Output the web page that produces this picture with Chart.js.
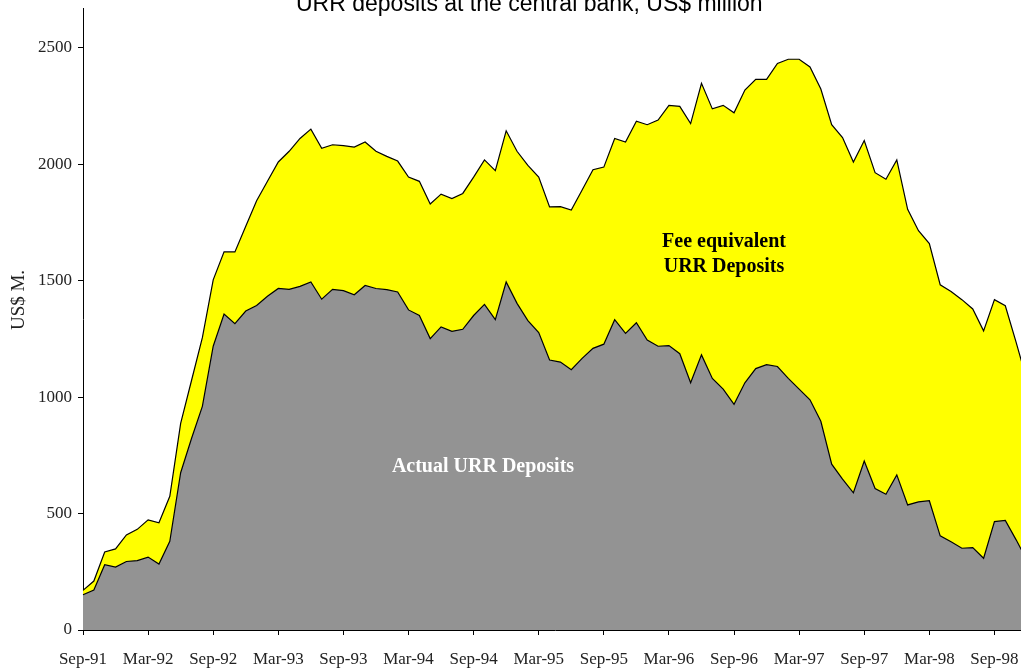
<!DOCTYPE html>
<html>
<head>
<meta charset="utf-8">
<title>URR deposits at the central bank</title>
<script src="https://cdn.jsdelivr.net/npm/chart.js@4.4.1/dist/chart.umd.min.js"></script>
<style>
  html, body { margin: 0; padding: 0; background: #fff; overflow: hidden; }
  #wrap { width: 1030px; height: 670px; }
</style>
</head>
<body>
<div id="wrap"><canvas id="urrChart" width="1030" height="670"></canvas></div>
<script>
// monthly, Sep-91 .. Dec-98
var months = [
    'Sep-91', 'Oct-91', 'Nov-91', 'Dec-91',
    'Jan-92', 'Feb-92', 'Mar-92', 'Apr-92', 'May-92', 'Jun-92', 'Jul-92', 'Aug-92', 'Sep-92', 'Oct-92', 'Nov-92', 'Dec-92',
    'Jan-93', 'Feb-93', 'Mar-93', 'Apr-93', 'May-93', 'Jun-93', 'Jul-93', 'Aug-93', 'Sep-93', 'Oct-93', 'Nov-93', 'Dec-93',
    'Jan-94', 'Feb-94', 'Mar-94', 'Apr-94', 'May-94', 'Jun-94', 'Jul-94', 'Aug-94', 'Sep-94', 'Oct-94', 'Nov-94', 'Dec-94',
    'Jan-95', 'Feb-95', 'Mar-95', 'Apr-95', 'May-95', 'Jun-95', 'Jul-95', 'Aug-95', 'Sep-95', 'Oct-95', 'Nov-95', 'Dec-95',
    'Jan-96', 'Feb-96', 'Mar-96', 'Apr-96', 'May-96', 'Jun-96', 'Jul-96', 'Aug-96', 'Sep-96', 'Oct-96', 'Nov-96', 'Dec-96',
    'Jan-97', 'Feb-97', 'Mar-97', 'Apr-97', 'May-97', 'Jun-97', 'Jul-97', 'Aug-97', 'Sep-97', 'Oct-97', 'Nov-97', 'Dec-97',
    'Jan-98', 'Feb-98', 'Mar-98', 'Apr-98', 'May-98', 'Jun-98', 'Jul-98', 'Aug-98', 'Sep-98', 'Oct-98', 'Nov-98', 'Dec-98'
];

// grey area: actual URR deposits
var actualDeposits = [
    151, 172, 280, 270, 294, 298, 313, 283, 381, 675,
    822, 960, 1218, 1356, 1315, 1369, 1393, 1433, 1466, 1462,
    1475, 1494, 1420, 1462, 1457, 1439, 1479, 1466, 1461, 1451,
    1374, 1350, 1251, 1301, 1282, 1291, 1350, 1398, 1332, 1494,
    1402, 1328, 1277, 1159, 1150, 1117, 1166, 1209, 1227, 1332,
    1273, 1319, 1245, 1218, 1221, 1186, 1061, 1181, 1080, 1034,
    969, 1061, 1122, 1139, 1131, 1080, 1034, 988, 896, 712,
    648, 589, 725, 607, 583, 666, 537, 550, 555, 404,
    379, 351, 354, 308, 465, 470, 387, 298
];

// top of yellow area: actual + fee equivalent URR deposits
var totalDeposits = [
    170, 210, 335, 348, 408, 432, 473, 460, 574, 887,
    1071, 1255, 1503, 1623, 1623, 1733, 1843, 1926, 2009, 2055,
    2110, 2150, 2068, 2083, 2079, 2073, 2095, 2055, 2033, 2013,
    1944, 1926, 1829, 1871, 1852, 1874, 1944, 2018, 1972, 2143,
    2055, 1994, 1944, 1816, 1817, 1803, 1889, 1976, 1987, 2110,
    2095, 2184, 2169, 2189, 2252, 2248, 2174, 2347, 2237, 2252,
    2220, 2318, 2364, 2364, 2432, 2450, 2450, 2417, 2322, 2169,
    2114, 2009, 2101, 1963, 1935, 2018, 1806, 1714, 1659, 1482,
    1453, 1418, 1378, 1284, 1418, 1392, 1235, 1070
];

var xTickLabels = ['Sep-91', 'Mar-92', 'Sep-92', 'Mar-93', 'Sep-93', 'Mar-94', 'Sep-94', 'Mar-95',
    'Sep-95', 'Mar-96', 'Sep-96', 'Mar-97', 'Sep-97', 'Mar-98', 'Sep-98'];
var yTicks = [0, 500, 1000, 1500, 2000, 2500];

var chartTitle = 'URR deposits at the central bank, US$ million';
var yTitle = 'US$ M.';

// texts drawn on top of the areas
var textPlugin = {
    id: 'texts',
    afterDraw: function (chart) {
        var ctx = chart.ctx;
        ctx.save();
        ctx.fillStyle = '#000';
        ctx.font = '23px "Liberation Sans", Arial, sans-serif';
        ctx.textAlign = 'left';
        ctx.textBaseline = 'alphabetic';
        ctx.fillText(chartTitle, 296, 11);

        ctx.font = 'bold 20px "Liberation Serif", "Times New Roman", serif';
        ctx.textAlign = 'center';
        ctx.fillText('Fee equivalent', 724, 247);
        ctx.fillText('URR Deposits', 724, 272);

        ctx.fillStyle = '#fff';
        ctx.fillText('Actual URR Deposits', 483, 472);

        ctx.fillStyle = '#222';
        ctx.font = '19px "Liberation Serif", "Times New Roman", serif';
        ctx.translate(19, 300);
        ctx.rotate(-Math.PI / 2);
        ctx.textBaseline = 'middle';
        ctx.fillText(yTitle, 0, 0);
        ctx.restore();
    }
};

Chart.defaults.font.family = '"Liberation Serif", "Times New Roman", serif';
Chart.defaults.color = '#222';

var ctx = document.getElementById('urrChart').getContext('2d');
new Chart(ctx, {
    type: 'line',
    data: {
        labels: months,
        datasets: [
            {
                label: 'Actual URR Deposits',
                data: actualDeposits,
                backgroundColor: '#939393',
                borderColor: '#000',
                borderWidth: 1.2,
                fill: 'origin',
                pointRadius: 0,
                tension: 0
            },
            {
                label: 'Fee equivalent URR Deposits',
                data: totalDeposits,
                backgroundColor: '#ffff00',
                borderColor: '#000',
                borderWidth: 1.2,
                fill: '-1',
                pointRadius: 0,
                tension: 0
            }
        ]
    },
    options: {
        responsive: false,
        animation: false,
        devicePixelRatio: 1,
        layout: {
            padding: { top: 8, right: 3, left: 0, bottom: 0 }
        },
        plugins: {
            legend: { display: false },
            tooltip: { enabled: false },
            title: { display: false }
        },
        scales: {
            x: {
                grid: {
                    drawOnChartArea: false,
                    drawTicks: true,
                    tickLength: 5,
                    color: '#000'
                },
                border: { display: true, color: '#000', width: 1 },
                ticks: {
                    autoSkip: false,
                    maxRotation: 0,
                    padding: 14,
                    font: { size: 17 },
                    callback: function (value) {
                        var lbl = this.getLabelForValue(value);
                        return xTickLabels.indexOf(lbl) >= 0 ? lbl : null;
                    }
                },
                afterFit: function (scale) {
                    scale.height = 40;
                    scale.paddingLeft = 0;
                    scale.paddingRight = 0;
                }
            },
            y: {
                min: 0,
                max: 2670,
                grid: {
                    drawOnChartArea: false,
                    drawTicks: true,
                    tickLength: 5,
                    color: '#000'
                },
                border: { display: true, color: '#000', width: 1 },
                ticks: {
                    padding: 6,
                    font: { size: 17 },
                    callback: function (value) {
                        return String(value);
                    }
                },
                afterBuildTicks: function (scale) {
                    scale.ticks = yTicks.map(function (v) { return { value: v }; });
                },
                afterFit: function (scale) {
                    scale.width = 83;
                    scale.paddingTop = 0;
                    scale.paddingBottom = 0;
                }
            }
        }
    },
    plugins: [textPlugin]
});
</script>
</body>
</html>
